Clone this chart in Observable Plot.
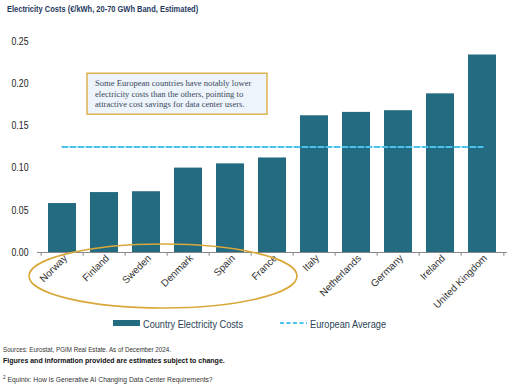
<!DOCTYPE html>
<html>
<head>
<meta charset="utf-8">
<script src="https://cdn.jsdelivr.net/npm/d3@7"></script>
<script src="https://cdn.jsdelivr.net/npm/@observablehq/plot@0.6"></script>
<style>
  html, body { margin: 0; padding: 0; background: #fff; }
  body { width: 532px; height: 389px; position: relative; overflow: hidden; font-family: "Liberation Sans", Arial, sans-serif; }
  #title { position: absolute; left: 7px; top: 4px; font-size: 8.8px; font-weight: bold; color: #1f3a5f; white-space: nowrap; transform: scaleX(0.85); transform-origin: left top; }
  #chart { position: absolute; left: 0; top: 22px; }
  #legend { position: absolute; top: 316px; left: 0; width: 532px; height: 16px; }
  .note { position: absolute; left: 3px; font-size: 7px; color: #333; white-space: nowrap; transform: scaleX(0.89); transform-origin: left top; }
</style>
</head>
<body>
<div id="title">Electricity Costs (€/kWh, 20-70 GWh Band, Estimated)</div>
<div id="chart"></div>
<div id="legend"></div>
<div class="note" style="top:346px">Sources: Eurostat, PGIM Real Estate. As of December 2024.</div>
<div class="note" style="top:357px;font-weight:bold;color:#111;transform:none">Figures and information provided are estimates subject to change.</div>
<div class="note" style="top:374px;transform:scaleX(0.96)"><sup style="font-size:5px">2</sup> Equinix: How Is Generative AI Changing Data Center Requirements?</div>
<script>
const countries = ["Norway","Finland","Sweden","Denmark","Spain","France","Italy","Netherlands","Germany","Ireland","United Kingdom"];
const costs = [0.058,0.071,0.072,0.100,0.105,0.112,0.162,0.166,0.168,0.188,0.234];
const europeanAverage = 0.125;
const yTicks = [0,0.05,0.10,0.15,0.20,0.25];
const seriesNames = ["Country Electricity Costs","European Average"];
const annotationText = ["Some European countries have notably lower","electricity costs than the others, pointing to","attractive cost savings for data center users."];

const barColor = "#236b80";
const avgColor = "#4cc3ee";
const gold = "#d9a83a";

const data = countries.map((c, i) => ({country: c, cost: costs[i]}));

const W = 532, H = 296, mL = 37, mR = 25, mT = 19, mB = 66;
const step = (W - mL - mR) / countries.length;
const tickLen = 0.0045;

const plot = Plot.plot({
  width: W, height: H,
  marginLeft: mL, marginRight: mR, marginTop: mT, marginBottom: mB,
  style: {fontFamily: "Liberation Sans, Arial, sans-serif", fontSize: "10px", color: "#333", background: "transparent"},
  x: {domain: countries, paddingInner: 0.34, paddingOuter: 0.17, label: null},
  y: {domain: [0, 0.25], label: null},
  marks: [
    Plot.barY(data, {x: "country", y: "cost", fill: barColor}),
    Plot.lineY(data, {x: "country", y: () => europeanAverage, stroke: avgColor, strokeWidth: 2.2, strokeDasharray: "5,3"}),
    Plot.ruleY([0], {stroke: "#888", strokeWidth: 1}),
    Plot.ruleX(countries, {x: d => d, dx: -step / 2, y1: 0, y2: -tickLen, stroke: "#888"}),
    Plot.ruleX([countries[countries.length - 1]], {x: d => d, dx: step / 2, y1: 0, y2: -tickLen, stroke: "#888"}),
    Plot.axisY(yTicks, {tickSize: 0, tickPadding: 9, tickFormat: d3.format(".2f"), fontSize: 10.5, fill: "#222"}),
    Plot.axisX({tickSize: 0, tickPadding: 2, tickRotate: -45, fontSize: 10, fill: "#333", dx: 3, dy: 2})
  ]
});
document.getElementById("chart").appendChild(plot);

// Y tick labels in the reference are narrow
d3.select(plot).selectAll("[aria-label='y-axis tick label'] text").attr("textLength", 17).attr("lengthAdjust", "spacingAndGlyphs");

// Annotation: ellipse around low-cost countries, and text box
const xs = plot.scale("x");
const ys = plot.scale("y");
const svg = d3.select(plot);
const left = xs.apply(countries[0]);
const right = xs.apply(countries[5]) + xs.bandwidth;
svg.append("ellipse")
  .attr("cx", (left + right) / 2 - 4)
  .attr("cy", ys.apply(0) + 24)
  .attr("rx", (right - left) / 2 + 15)
  .attr("ry", 32)
  .attr("fill", "none").attr("stroke", gold).attr("stroke-width", 1.6);

const boxX = 87, boxY = ys.apply(0.2) - 10, boxW = 180, boxH = 41;
svg.append("rect").attr("x", boxX).attr("y", boxY).attr("width", boxW).attr("height", boxH)
  .attr("fill", "#eef4fb").attr("stroke", gold).attr("stroke-width", 1.3);
const t = svg.append("text").attr("text-anchor", "start").attr("font-family", "Liberation Serif, DejaVu Serif, serif").attr("font-size", 8.6).attr("fill", "#3b4a5c");
annotationText.forEach((line, i) => t.append("tspan").attr("x", boxX + 8).attr("y", boxY + 13 + i * 10.5).text(line));

// Legend
const lg = d3.select("#legend").append("svg").attr("width", 532).attr("height", 16)
  .attr("font-family", "Liberation Sans, Arial, sans-serif");
lg.append("rect").attr("x", 113).attr("y", 4).attr("width", 27).attr("height", 6).attr("fill", barColor);
lg.append("text").attr("x", 143).attr("y", 11.5).attr("font-size", 11).attr("fill", "#2a3f55")
  .attr("textLength", 100).attr("lengthAdjust", "spacingAndGlyphs").text(seriesNames[0]);
lg.append("line").attr("x1", 280).attr("x2", 307).attr("y1", 7).attr("y2", 7).attr("stroke", avgColor).attr("stroke-width", 2).attr("stroke-dasharray", "4,2.5");
lg.append("text").attr("x", 310).attr("y", 11.5).attr("font-size", 11).attr("fill", "#2a3f55")
  .attr("textLength", 76).attr("lengthAdjust", "spacingAndGlyphs").text(seriesNames[1]);
</script>
</body>
</html>
